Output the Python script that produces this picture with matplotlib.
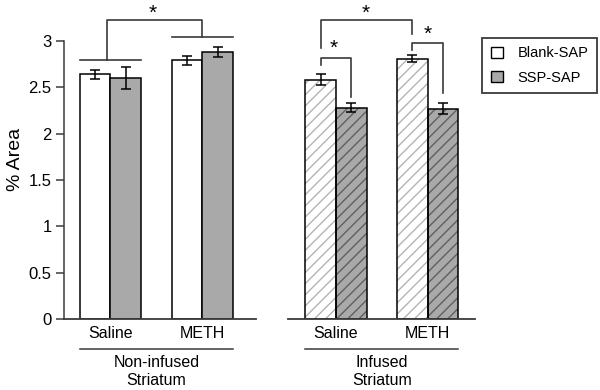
import matplotlib
matplotlib.use("Agg")
import matplotlib.pyplot as plt
from matplotlib.patches import Patch

plt.rcParams['font.family'] = ['Liberation Sans', 'DejaVu Sans']
plt.rcParams['hatch.linewidth'] = 1.0

treatments = ["Saline", "METH"]
groups = ["Non-infused\nStriatum", "Infused\nStriatum"]
series = ["Blank-SAP", "SSP-SAP"]
# values [group][treatment]
blank_vals = [[2.64, 2.79], [2.58, 2.81]]
blank_err = [[0.05, 0.05], [0.06, 0.04]]
ssp_vals = [[2.60, 2.88], [2.28, 2.27]]
ssp_err = [[0.12, 0.05], [0.05, 0.06]]
yticks = [0, 0.5, 1, 1.5, 2, 2.5, 3]

# layout
W = 0.99
pair_centers = [[1.0, 3.97], [8.28, 11.24]]
axis_spans = [(0.0, 6.19), (7.23, 13.26)]
white = "#ffffff"
gray = "#a9a9a9"
line_c = "#3a3a3a"

fig = plt.figure(figsize=(6, 3.9), dpi=100)
ax = fig.add_axes([64/600, 1-319/390, (475-64)/600, 319/390])
ax.set_xlim(0, 13.26)
ax.set_ylim(0, 319/92.67)

for g in range(2):
    hatched = (g == 1)
    for t in range(2):
        xb = pair_centers[g][t]
        xs = xb + W
        if hatched:
            ax.bar(xb, blank_vals[g][t], W, color=white, edgecolor="#b4b4b4",
                   hatch="///", linewidth=0, zorder=2)
            ax.bar(xs, ssp_vals[g][t], W, color=gray, edgecolor="#606060",
                   hatch="///", linewidth=0, zorder=2)
            ax.bar([xb, xs], [blank_vals[g][t], ssp_vals[g][t]], W, fill=False,
                   edgecolor="black", linewidth=1.1, zorder=3)
        else:
            ax.bar([xb, xs], [blank_vals[g][t], ssp_vals[g][t]], W,
                   color=[white, gray], edgecolor="black", linewidth=1.1, zorder=3)
        ax.errorbar([xb, xs], [blank_vals[g][t], ssp_vals[g][t]],
                    yerr=[blank_err[g][t], ssp_err[g][t]], fmt="none",
                    ecolor="black", elinewidth=1.1, capsize=3.8, capthick=1.1, zorder=4)

# axes styling
for s in ["top", "right", "bottom"]:
    ax.spines[s].set_visible(False)
ax.spines["left"].set_bounds(0, 3)
ax.spines["left"].set_color(line_c)
ax.spines["left"].set_linewidth(1.1)
ax.set_yticks(yticks)
ax.set_yticklabels([f"{v:g}" for v in yticks], fontsize=12)
ax.tick_params(axis="y", length=6, width=1.1, color=line_c, pad=3)
ax.set_ylabel("% Area", fontsize=14, labelpad=3)

xt, xl = [], []
for g in range(2):
    for t in range(2):
        xt.append(pair_centers[g][t] + W/2)
        xl.append(treatments[t])
ax.set_xticks(xt)
ax.set_xticklabels(xl, fontsize=11.5)
ax.tick_params(axis="x", length=0, pad=5)

# baseline segments
for a, b in axis_spans:
    ax.plot([a, b], [0, 0], color=line_c, lw=1.3, clip_on=False, zorder=5)

# group lines and labels
for g in range(2):
    left = pair_centers[g][0] - W/2
    right = pair_centers[g][1] + 1.5*W
    ax.plot([left, right], [-0.324, -0.324], color=line_c, lw=1.1, clip_on=False)
    ax.text((left + right)/2, -0.39, groups[g], ha="center", va="top",
            fontsize=11.5, linespacing=1.2)

def seg(xs, ys):
    ax.plot(xs, ys, color=line_c, lw=1.2, clip_on=False, zorder=5)

def star(x, y):
    ax.text(x, y, "*", ha="center", va="center", fontsize=15, clip_on=False)

# left panel brackets
c0 = pair_centers[0]
seg([c0[0]-W/2, c0[0]+1.5*W], [2.80, 2.80])
seg([c0[1]-W/2, c0[1]+1.5*W], [3.04, 3.04])
seg([1.4, 1.4, 4.45, 4.45], [2.80, 3.23, 3.23, 3.04])
star(2.87, 3.30)

# right panel brackets
c1 = pair_centers[1]
seg([c1[0], c1[0], c1[1], c1[1]], [2.92, 3.23, 3.23, 3.08])
star(9.74, 3.30)
seg([c1[0], c1[0], c1[0]+W, c1[0]+W], [2.74, 2.82, 2.82, 2.40])
star(8.71, 2.92)
seg([c1[1], c1[1], c1[1]+W, c1[1]+W], [2.90, 2.98, 2.98, 2.44])
star(11.72, 3.07)

handles = [Patch(facecolor=white, edgecolor="black", linewidth=1.0),
           Patch(facecolor=gray, edgecolor="black", linewidth=1.0)]
leg = fig.legend(handles, series, loc="upper left",
                 bbox_to_anchor=(482/600, 1-37.7/390), fontsize=10.5,
                 handlelength=0.85, handleheight=0.85, handletextpad=1.0,
                 labelspacing=0.7, borderpad=0.6, borderaxespad=0,
                 fancybox=False, framealpha=1)
leg.get_frame().set_edgecolor(line_c)
leg.get_frame().set_linewidth(1.3)

fig.savefig("out.png", dpi=100)
